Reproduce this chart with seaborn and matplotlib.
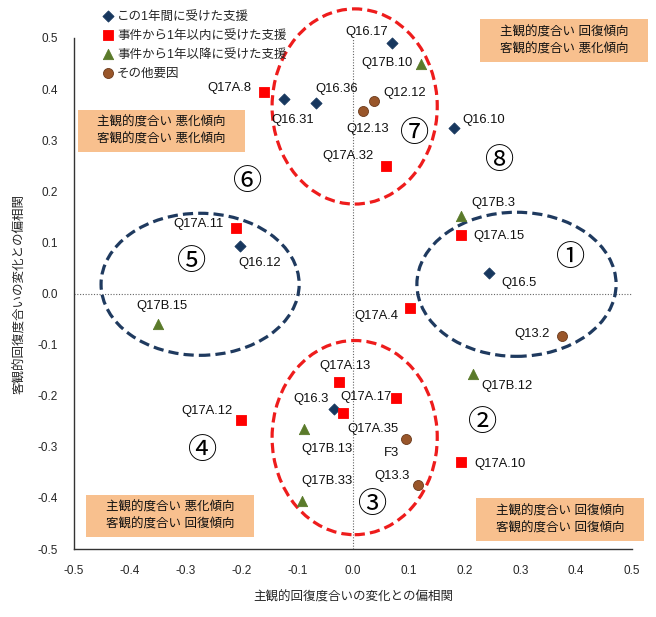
import matplotlib
matplotlib.use("Agg")
import matplotlib.pyplot as plt
import seaborn as sns
import pandas as pd
from matplotlib.patches import Ellipse, Rectangle

# ---------------- data ----------------
series_names = ["この1年間に受けた支援", "事件から1年以内に受けた支援",
                "事件から1年以降に受けた支援", "その他要因"]

s1_labels = ["Q16.17", "Q16.36", "Q16.31", "Q16.10", "Q16.12", "Q16.5", "Q16.3"]
s1_x = [0.070, -0.066, -0.124, 0.181, -0.202, 0.244, -0.034]
s1_y = [0.490, 0.373, 0.380, 0.323, 0.092, 0.041, -0.227]

s2_labels = ["Q17A.8", "Q17A.32", "Q17A.11", "Q17A.15", "Q17A.4", "Q17A.13",
             "Q17A.35", "Q17A.17", "Q17A.12", "Q17A.10"]
s2_x = [-0.160, 0.059, -0.210, 0.194, 0.102, -0.025, -0.018, 0.077, -0.200, 0.194]
s2_y = [0.395, 0.249, 0.129, 0.115, -0.029, -0.174, -0.233, -0.204, -0.247, -0.329]

s3_labels = ["Q17B.10", "Q17B.15", "Q17B.3", "Q17B.12", "Q17B.13", "Q17B.33"]
s3_x = [0.122, -0.350, 0.194, 0.215, -0.088, -0.091]
s3_y = [0.450, -0.059, 0.151, -0.157, -0.266, -0.407]

s4_labels = ["Q12.12", "Q12.13", "Q13.2", "F3", "Q13.3"]
s4_x = [0.038, 0.018, 0.375, 0.095, 0.116]
s4_y = [0.376, 0.358, -0.084, -0.284, -0.374]

x_ticks = [-0.5, -0.4, -0.3, -0.2, -0.1, 0.0, 0.1, 0.2, 0.3, 0.4, 0.5]
y_ticks = [-0.5, -0.4, -0.3, -0.2, -0.1, 0.0, 0.1, 0.2, 0.3, 0.4, 0.5]

x_title = "主観的回復度合いの変化との偏相関"
y_title = "客観的回復度合いの変化との偏相関"

box_texts = {
    "tr": "主観的度合い 回復傾向\n客観的度合い 悪化傾向",
    "tl": "主観的度合い 悪化傾向\n客観的度合い 悪化傾向",
    "bl": "主観的度合い 悪化傾向\n客観的度合い 回復傾向",
    "br": "主観的度合い 回復傾向\n客観的度合い 回復傾向",
}
circled = ["①", "②", "③", "④", "⑤", "⑥", "⑦", "⑧"]

# ---------------- styles / positions ----------------
label_offsets = {  # pixel offsets of label centre from point
    "Q16.17": (-25, 11), "Q17B.10": (-34, 1), "Q16.36": (21, 14), "Q16.31": (9, -21),
    "Q12.12": (30, 8), "Q12.13": (5, -18), "Q16.10": (30, 8), "Q17A.32": (-38, 10),
    "Q17A.8": (-34, 4), "Q17A.11": (-37, 4), "Q16.12": (19, -17), "Q17B.15": (4, 18),
    "Q17B.3": (32, 13), "Q17A.15": (38, -1), "Q16.5": (30, -10), "Q17A.4": (-34, -8),
    "Q13.2": (-30, 2), "Q17A.13": (6, 16), "Q16.3": (-23, 10), "Q17A.17": (-30, 1),
    "Q17A.35": (30, -16), "F3": (-15, -14), "Q17B.13": (23, -20), "Q17B.12": (34, -12),
    "Q17A.10": (39, -2), "Q13.3": (-26, 9), "Q17B.33": (25, 20), "Q17A.12": (-34, 9),
}
circ_pos = [(571, 258), (483, 423), (373, 505), (203, 451), (192, 262),
            (248, 182), (415, 134), (500, 161)]  # figure pixels
boxes = {"tr": (480, 19, 648, 62), "tl": (78, 110, 245, 152),
         "bl": (86, 495, 254, 537), "br": (476, 498, 644, 541)}

colors = ["#17375E", "#FF0000", "#5A7A2A", "#99562A"]
markers = ["D", "s", "^", "o"]
sizes = [32, 55, 55, 52]

W, H = 656, 617
sns.set_style("white")
plt.rcParams["font.family"] = ["Liberation Sans", "Noto Sans CJK JP", "DejaVu Sans"]

fig = plt.figure(figsize=(W / 100, H / 100), dpi=100)
ax = fig.add_axes([74 / W, 1 - 549 / H, 558 / W, 511 / H])

frames = []
for name, lab, xs, ys in zip(series_names, [s1_labels, s2_labels, s3_labels, s4_labels],
                             [s1_x, s2_x, s3_x, s4_x], [s1_y, s2_y, s3_y, s4_y]):
    frames.append(pd.DataFrame({"series": name, "label": lab, "x": xs, "y": ys}))
df = pd.concat(frames, ignore_index=True)

ax.axhline(0, color="#666666", ls=(0, (1, 1.5)), lw=0.8, zorder=1)
ax.axvline(0, color="#666666", ls=(0, (1, 1.5)), lw=0.8, zorder=1)

for i, name in enumerate(series_names):
    sub = df[df["series"] == name]
    sns.scatterplot(data=sub, x="x", y="y", ax=ax, color=colors[i], marker=markers[i],
                    s=sizes[i], edgecolor=colors[i] if i < 3 else "#6B3A1C",
                    linewidth=0.6, label=name, zorder=4, clip_on=False)

for _, r in df.iterrows():
    dx, dy = label_offsets[r["label"]]
    ax.annotate(r["label"], (r["x"], r["y"]), xytext=(dx, dy), textcoords="offset pixels",
                ha="center", va="center", fontsize=9.4, color="#111111", zorder=5)

# ellipses
ell_style = dict(fill=False, lw=2.3, clip_on=False, zorder=3)
ax.add_patch(Ellipse((0.003, 0.366), 0.296, 0.382, edgecolor="#EE1C1C", ls=(0, (3.2, 1.6)), **ell_style))
ax.add_patch(Ellipse((0.003, -0.282), 0.296, 0.380, edgecolor="#EE1C1C", ls=(0, (3.2, 1.6)), **ell_style))
ax.add_patch(Ellipse((-0.274, 0.018), 0.355, 0.278, edgecolor="#1F3A5F", ls=(0, (3.2, 1.6)), **ell_style))
ax.add_patch(Ellipse((0.293, 0.018), 0.357, 0.282, edgecolor="#1F3A5F", ls=(0, (3.2, 1.6)), **ell_style))

# axes
ax.set_xlim(-0.5, 0.5)
ax.set_ylim(-0.5, 0.5)
ax.set_xticks(x_ticks)
ax.set_yticks(y_ticks)
ax.set_xticklabels([f"{v:.1f}" for v in x_ticks], fontsize=8.5)
ax.set_yticklabels([f"{v:.1f}" for v in y_ticks], fontsize=8.5)
ax.tick_params(direction="inout", length=7, width=0.9, color="#333333", pad=8)
for s in ["top", "right"]:
    ax.spines[s].set_visible(False)
for s in ["left", "bottom"]:
    ax.spines[s].set_color("#333333")
    ax.spines[s].set_linewidth(1.0)
ax.set_xlabel(x_title, fontsize=9, labelpad=10)
ax.set_ylabel(y_title, fontsize=9, labelpad=8)
ax.set_facecolor("white")

# boxes
for key, (x0, y0, x1, y1) in boxes.items():
    fig.patches.append(Rectangle((x0 / W, 1 - y1 / H), (x1 - x0) / W, (y1 - y0) / H,
                                 transform=fig.transFigure, facecolor="#F8C08E",
                                 edgecolor="none", zorder=2))
    fig.text((x0 + x1) / 2 / W, 1 - (y0 + y1) / 2 / H, box_texts[key], ha="center",
             va="center", fontsize=9, linespacing=1.5, color="#111111", zorder=3)

for txt, (px, py) in zip(circled, circ_pos):
    fig.text(px / W, 1 - py / H, txt, ha="center", va="center", fontsize=21,
             family=["Noto Sans CJK JP"], color="black", zorder=6)

leg = ax.legend(loc="upper left", bbox_to_anchor=(92 / W, 1 - 2 / H),
                bbox_transform=fig.transFigure, frameon=False, fontsize=9,
                handletextpad=0.1, labelspacing=0.55, handlelength=1.2, borderpad=0.2)

fig.savefig("out.png", dpi=100, facecolor="white")
